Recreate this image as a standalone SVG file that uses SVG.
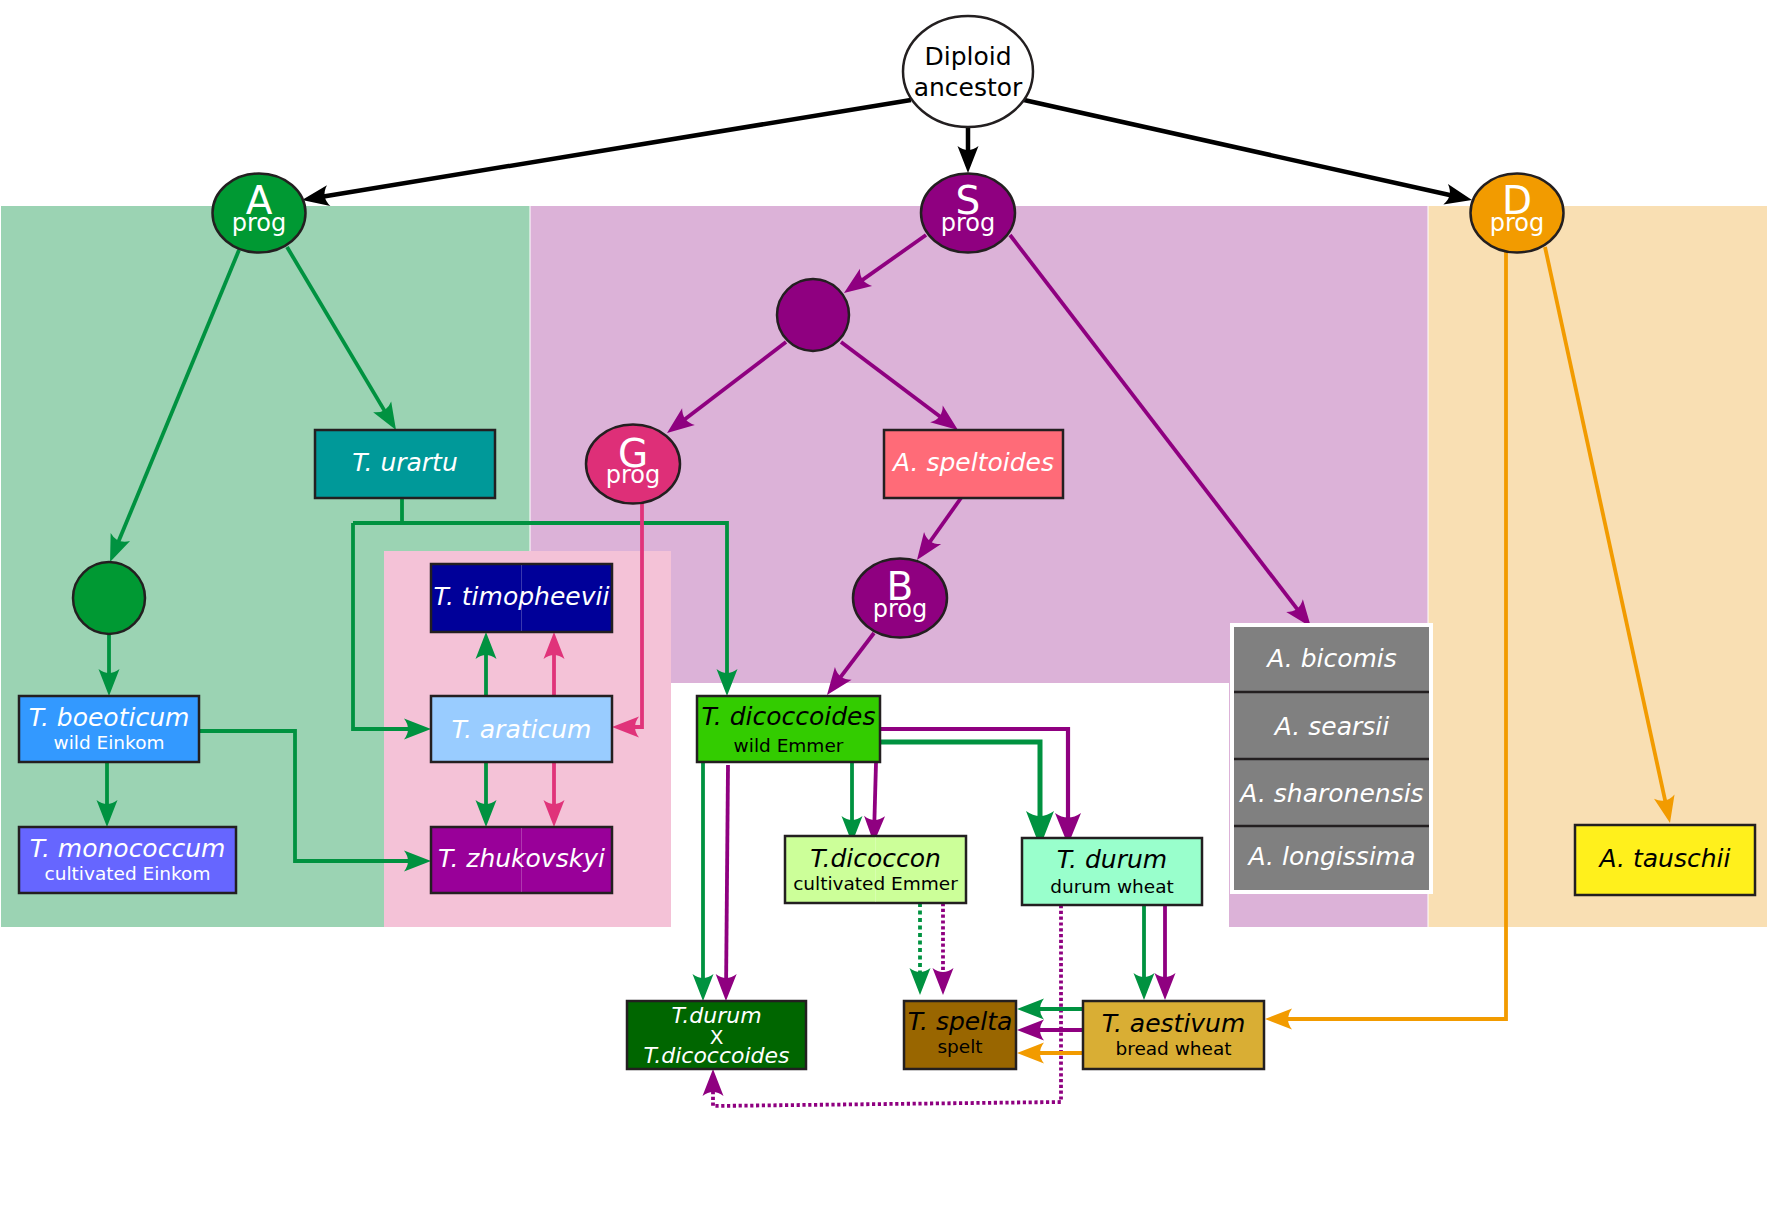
<svg xmlns="http://www.w3.org/2000/svg" width="1767" height="1228" viewBox="0 0 1767 1228">
<style>
text{font-family:"DejaVu Sans","Liberation Sans",sans-serif;text-anchor:middle}
.sp{font-size:25px;font-style:italic}
.sub{font-size:18.5px}
.w{fill:#fff}
.k{fill:#000}
.big{font-size:39px;fill:#fff}
.prog{font-size:24px;fill:#fff}
.box{stroke:#231f20;stroke-width:2.5}
.nd{stroke:#231f20;stroke-width:2.5}
.c{fill:none;stroke-linejoin:miter}
.bk{stroke:#000;stroke-width:4.5}
.gr{stroke:#009240;stroke-width:3.8}
.pu{stroke:#8f0080;stroke-width:3.8}
.pk{stroke:#e0337a;stroke-width:3.8}
.or{stroke:#f29b00;stroke-width:3.8}
.dg{stroke-dasharray:4 3.5}
.dp{stroke-dasharray:3.2 2.6}
.mid{stroke:#ffffff;stroke-opacity:0.22;stroke-width:1}
</style>
<defs>
<marker id="ab" markerUnits="userSpaceOnUse" viewBox="-30 -12 32 24" markerWidth="32" markerHeight="24" refX="-8" refY="0" orient="auto"><path d="M0,0 L-27,-10.5 Q-19,0 -27,10.5 Z" fill="#000"/></marker>
<marker id="ag" markerUnits="userSpaceOnUse" viewBox="-30 -12 32 24" markerWidth="32" markerHeight="24" refX="-8" refY="0" orient="auto"><path d="M0,0 L-27,-10.5 Q-19,0 -27,10.5 Z" fill="#009240"/></marker>
<marker id="ap" markerUnits="userSpaceOnUse" viewBox="-30 -12 32 24" markerWidth="32" markerHeight="24" refX="-8" refY="0" orient="auto"><path d="M0,0 L-27,-10.5 Q-19,0 -27,10.5 Z" fill="#8f0080"/></marker>
<marker id="ak" markerUnits="userSpaceOnUse" viewBox="-30 -12 32 24" markerWidth="32" markerHeight="24" refX="-8" refY="0" orient="auto"><path d="M0,0 L-27,-10.5 Q-19,0 -27,10.5 Z" fill="#e0337a"/></marker>
<marker id="ao" markerUnits="userSpaceOnUse" viewBox="-30 -12 32 24" markerWidth="32" markerHeight="24" refX="-8" refY="0" orient="auto"><path d="M0,0 L-27,-10.5 Q-19,0 -27,10.5 Z" fill="#f29b00"/></marker>
<marker id="agB" markerUnits="userSpaceOnUse" viewBox="-40 -16 42 32" markerWidth="42" markerHeight="32" refX="-10" refY="0" orient="auto"><path d="M0,0 L-36,-14 Q-26,0 -36,14 Z" fill="#009240"/></marker>
<marker id="apB" markerUnits="userSpaceOnUse" viewBox="-40 -16 42 32" markerWidth="42" markerHeight="32" refX="-10" refY="0" orient="auto"><path d="M0,0 L-32,-13 Q-23,0 -32,13 Z" fill="#8f0080"/></marker>
</defs>
<rect width="1767" height="1228" fill="#fff"/>
<g id="regions">
<rect x="1" y="206" width="528.5" height="721" fill="#9bd3b3"/>
<path d="M530.5,206 H1427.5 V927 H1229 V683 H530.5 Z" fill="#dcb2d8"/>
<rect x="1428.5" y="206" width="338.5" height="721" fill="#f9dfb3"/>
<rect x="384" y="551" width="287" height="376" fill="#f4c2d7"/>
</g>
<g id="connectors" class="c">
<path class="bk" d="M911,100 L309.9,198.7" marker-end="url(#ab)"/>
<path class="bk" d="M968,127 V165" marker-end="url(#ab)"/>
<path class="bk" d="M1024,100 L1464.2,198.3" marker-end="url(#ab)"/>
<path class="gr" d="M239,250 L113.1,554.6" marker-end="url(#ag)"/>
<path class="gr" d="M287,247 L391.9,423.1" marker-end="url(#ag)"/>
<path class="gr" d="M109,634 V688" marker-end="url(#ag)"/>
<path class="gr" d="M107,762 V819" marker-end="url(#ag)"/>
<path class="gr" d="M199,731 H295 V861 H423" marker-end="url(#ag)"/>
<path class="gr" d="M402,498 V523"/>
<path class="gr" d="M353,523 H727 V688" marker-end="url(#ag)"/>
<path class="gr" d="M353,523 V729 H423" marker-end="url(#ag)"/>
<path class="gr" d="M486,696 V640" marker-end="url(#ag)"/>
<path class="gr" d="M486,762 V819" marker-end="url(#ag)"/>
<path class="pk" d="M642,503 V727 H620" marker-end="url(#ak)"/>
<path class="pk" d="M554,696 V640" marker-end="url(#ak)"/>
<path class="pk" d="M554,762 V819" marker-end="url(#ak)"/>
<path class="pu" d="M926,235 L850.5,288.4" marker-end="url(#ap)"/>
<path class="pu" d="M786,342 L673.4,428.1" marker-end="url(#ap)"/>
<path class="pu" d="M841,342 L951.6,425.2" marker-end="url(#ap)"/>
<path class="pu" d="M1010,235 L1306.1,620.7" marker-end="url(#ap)"/>
<path class="pu" d="M961,498 L921.6,553.5" marker-end="url(#ap)"/>
<path class="pu" d="M874,633 L831.8,688.6" marker-end="url(#ap)"/>
<path class="gr" d="M703,762 V993" marker-end="url(#ag)"/>
<path class="pu" d="M728,765 L726,993" marker-end="url(#ap)"/>
<path class="gr" d="M852,762 V835" marker-end="url(#ag)"/>
<path class="pu" d="M876,763 L874,835" marker-end="url(#ap)"/>
<path class="gr" style="stroke-width:5" d="M880,742 H1040 V837" marker-end="url(#agB)"/>
<path class="pu" style="stroke-width:4.2" d="M880,729 H1068 V835" marker-end="url(#apB)"/>
<path class="gr dg" d="M920,903 V987" marker-end="url(#ag)"/>
<path class="pu dp" d="M943,903 V987" marker-end="url(#ap)"/>
<path class="pu dp" d="M1061,905 V1102 L713,1106 V1077" marker-end="url(#ap)"/>
<path class="gr" d="M1144,905 V992" marker-end="url(#ag)"/>
<path class="pu" d="M1165,905 V992" marker-end="url(#ap)"/>
<path class="gr" d="M1083,1009 H1025" marker-end="url(#ag)"/>
<path class="pu" d="M1083,1030 H1025" marker-end="url(#ap)"/>
<path class="or" d="M1083,1053 H1025" marker-end="url(#ao)"/>
<path class="or" d="M1545,247 L1668.3,815.2" marker-end="url(#ao)"/>
<path class="or" d="M1506,252 V1019 H1273" marker-end="url(#ao)"/>
</g>
<g id="diploid">
<ellipse class="nd" cx="968" cy="71.5" rx="65" ry="55.5" fill="#fff"/>
<text class="k" x="968" y="65" style="font-size:25px">Diploid</text>
<text class="k" x="968" y="96" style="font-size:25px">ancestor</text>
</g>
<g id="a-prog">
<ellipse class="nd" cx="259" cy="213" rx="46.5" ry="39.5" fill="#009933"/>
<text class="big" x="259" y="214">A</text>
<text class="prog" x="259" y="231">prog</text>
</g>
<g id="s-prog">
<ellipse class="nd" cx="968" cy="213" rx="47" ry="39.5" fill="#8f0080"/>
<text class="big" x="968" y="214">S</text>
<text class="prog" x="968" y="231">prog</text>
</g>
<g id="d-prog">
<ellipse class="nd" cx="1517" cy="213" rx="46.5" ry="39.5" fill="#f29b00"/>
<text class="big" x="1517" y="214">D</text>
<text class="prog" x="1517" y="231">prog</text>
</g>
<g id="s-child">
<ellipse class="nd" cx="813" cy="315" rx="36" ry="36" fill="#8f0080"/>
</g>
<g id="g-prog">
<ellipse class="nd" cx="633" cy="464" rx="47" ry="39.5" fill="#de2f78"/>
<text class="big" x="633" y="467">G</text>
<text class="prog" x="633" y="483">prog</text>
</g>
<g id="b-prog">
<ellipse class="nd" cx="900" cy="598" rx="47" ry="39.5" fill="#8f0080"/>
<text class="big" x="900" y="600">B</text>
<text class="prog" x="900" y="617">prog</text>
</g>
<g id="a-child">
<ellipse class="nd" cx="109" cy="598" rx="36" ry="36" fill="#009933"/>
</g>
<g id="t-urartu">
<rect class="box" x="315" y="430" width="180" height="68" fill="#009999"/>
<text class="sp w" x="405" y="471">T. urartu</text>
</g>
<g id="a-speltoides">
<rect class="box" x="884" y="430" width="179" height="68" fill="#ff6b78"/>
<text class="sp w" x="973.5" y="471">A. speltoides</text>
</g>
<g id="t-boeoticum">
<rect class="box" x="19" y="696" width="180" height="66" fill="#3399ff"/>
<text class="sp w" x="109" y="726">T. boeoticum</text>
<text class="sub w" x="109" y="749">wild Einkom</text>
</g>
<g id="t-monococcum">
<rect class="box" x="19" y="827" width="217" height="66" fill="#6666ff"/>
<text class="sp w" x="127.5" y="857">T. monococcum</text>
<text class="sub w" x="127.5" y="880">cultivated Einkom</text>
</g>
<g id="t-timopheevii">
<rect class="box" x="431" y="564" width="181" height="68" fill="#000099"/>
<line class="mid" x1="521.5" y1="565" x2="521.5" y2="631"/>
<text class="sp w" x="521.5" y="605">T. timopheevii</text>
</g>
<g id="t-araticum">
<rect class="box" x="431" y="696" width="181" height="66" fill="#99ccff"/>
<text class="sp w" x="521.5" y="738">T. araticum</text>
</g>
<g id="t-zhukovskyi">
<rect class="box" x="431" y="827" width="181" height="66" fill="#990099"/>
<line class="mid" x1="521.5" y1="828" x2="521.5" y2="892"/>
<text class="sp w" x="521.5" y="867">T. zhukovskyi</text>
</g>
<g id="t-dicoccoides">
<rect class="box" x="697" y="696" width="183" height="66" fill="#33cc00"/>
<text class="sp k" x="788.5" y="725">T. dicoccoides</text>
<text class="sub k" x="788.5" y="752">wild Emmer</text>
</g>
<g id="t-dicoccon">
<rect class="box" x="785" y="836" width="181" height="67" fill="#ccff99"/>
<line class="mid" x1="875.5" y1="837" x2="875.5" y2="902"/>
<text class="sp k" x="875.5" y="867">T.dicoccon</text>
<text class="sub k" x="875.5" y="890">cultivated Emmer</text>
</g>
<g id="t-durum">
<rect class="box" x="1022" y="838" width="180" height="67" fill="#99ffcc"/>
<text class="sp k" x="1112" y="868">T. durum</text>
<text class="sub k" x="1112" y="893">durum wheat</text>
</g>
<g id="aegilops-group">
<rect x="1230" y="623" width="203" height="271" fill="#fff"/>
<rect x="1234" y="627" width="195" height="263" fill="#808080"/>
<g stroke="#231f20" stroke-width="2.5">
<line x1="1234" y1="692" x2="1429" y2="692"/>
<line x1="1234" y1="759" x2="1429" y2="759"/>
<line x1="1234" y1="826" x2="1429" y2="826"/>
</g>
<text class="sp w" x="1332" y="667">A. bicomis</text>
<text class="sp w" x="1332" y="735">A. searsii</text>
<text class="sp w" x="1332" y="802">A. sharonensis</text>
<text class="sp w" x="1332" y="865">A. longissima</text>
</g>
<g id="a-tauschii">
<rect class="box" x="1575" y="825" width="180" height="70" fill="#fff01c"/>
<text class="sp k" x="1665" y="867">A. tauschii</text>
</g>
<g id="t-durum-x-dicoccoides">
<rect class="box" x="627" y="1001" width="179" height="68" fill="#006600"/>
<text class="w" x="716.5" y="1023" style="font-size:22px;font-style:italic">T.durum</text>
<text class="w" x="716.5" y="1044" style="font-size:20px">X</text>
<text class="w" x="716.5" y="1063" style="font-size:22px;font-style:italic">T.dicoccoides</text>
</g>
<g id="t-spelta">
<rect class="box" x="904" y="1001" width="112" height="68" fill="#996600"/>
<text class="sp k" x="960" y="1030">T. spelta</text>
<text class="sub k" x="960" y="1053">spelt</text>
</g>
<g id="t-aestivum">
<rect class="box" x="1083" y="1001" width="181" height="68" fill="#d9ae34"/>
<text class="sp k" x="1173.5" y="1032">T. aestivum</text>
<text class="sub k" x="1173.5" y="1055">bread wheat</text>
</g>
</svg>
